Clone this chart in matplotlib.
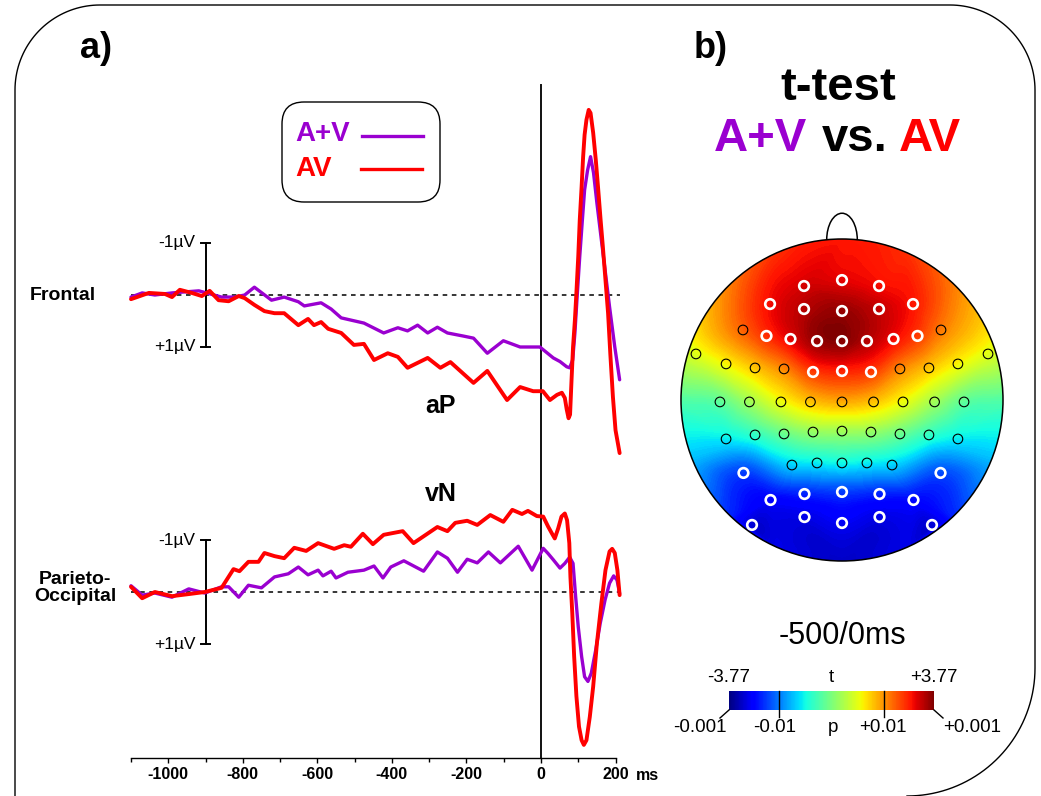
import numpy as np
import matplotlib
matplotlib.use("Agg")
import matplotlib.pyplot as plt
import matplotlib.tri as mtri
from matplotlib.patches import FancyBboxPatch, Circle, Arc
from matplotlib.colors import Normalize
from matplotlib.cm import ScalarMappable

plt.rcParams['font.family'] = ['Liberation Sans', 'DejaVu Sans']

# ---------------- data ----------------
# Frontal, A+V (ms, microvolt; negative plotted up)
t_front_apv = [-1100, -1070, -1036, -990, -918, -857, -822, -795, -769, -723,
               -689, -651, -635, -590, -563, -536, -475, -422, -384, -358,
               -331, -304, -278, -251, -208, -181, -144, -101, -56, -3,
               33, 51, 69, 77, 85, 91, 97, 104, 111, 117,
               125, 133, 141, 150, 162, 173, 184, 198, 211]
v_front_apv = [0.04, -0.04, 0.0, -0.04, -0.08, 0.04, 0.04, 0.0, -0.15, 0.1,
               0.04, 0.13, 0.21, 0.15, 0.27, 0.44, 0.54, 0.73, 0.63, 0.69,
               0.58, 0.73, 0.62, 0.73, 0.79, 0.83, 1.12, 0.88, 1.0, 1.0,
               1.21, 1.28, 1.38, 1.40, 1.25, 0.73, 0.03, -0.74, -1.44, -2.02,
               -2.40, -2.66, -2.35, -1.77, -1.06, -0.42, 0.23, 1.0, 1.63]
# Frontal, AV
t_front_av = [-1100, -1052, -1009, -990, -969, -937, -910, -889, -865, -838,
              -811, -795, -769, -742, -715, -689, -651, -625, -609, -590,
              -571, -536, -502, -475, -448, -411, -384, -358, -304, -270,
              -243, -181, -144, -91, -56, -21, 5, 24, 43, 56,
              64, 69, 74, 78, 82, 86, 91, 95, 100, 104,
              109, 113, 117, 122, 128, 133, 140, 147, 153, 160,
              166, 173, 180, 186, 193, 200, 211]
v_front_av = [0.08, -0.04, -0.02, 0.04, -0.1, -0.04, 0.02, -0.08, 0.1, 0.12,
              0.02, 0.06, 0.19, 0.31, 0.35, 0.35, 0.58, 0.46, 0.58, 0.52,
              0.65, 0.73, 0.96, 0.94, 1.25, 1.12, 1.19, 1.40, 1.21, 1.40,
              1.29, 1.69, 1.46, 2.02, 1.77, 1.85, 1.85, 2.02, 1.92, 1.88,
              1.98, 2.20, 2.37, 2.30, 1.63, 1.0, 0.48, -0.04, -0.74, -1.44,
              -2.08, -2.65, -3.08, -3.37, -3.56, -3.50, -3.12, -2.60, -2.08, -1.44,
              -0.93, -0.29, 0.35, 1.13, 1.96, 2.60, 3.04]
# Parieto-occipital, A+V
t_par_apv = [-1100, -1070, -1036, -990, -945, -902, -857, -838, -811, -785,
             -750, -715, -678, -651, -625, -598, -585, -563, -550, -518,
             -475, -448, -424, -403, -368, -315, -278, -251, -224, -198,
             -171, -141, -109, -61, -24, 6, 19, 33, 51, 64,
             77, 86, 93, 100, 109, 117, 126, 135, 147, 159,
             172, 184, 195, 204, 211]
v_par_apv = [-0.12, 0.06, 0.02, 0.1, -0.06, 0.02, -0.1, -0.1, 0.1, -0.13,
             -0.08, -0.29, -0.35, -0.48, -0.33, -0.42, -0.31, -0.40, -0.27, -0.38,
             -0.42, -0.50, -0.27, -0.48, -0.60, -0.40, -0.77, -0.65, -0.38, -0.63,
             -0.56, -0.77, -0.56, -0.88, -0.42, -0.84, -0.74, -0.62, -0.46, -0.55,
             -0.67, -0.55, 0.09, 0.67, 1.24, 1.63, 1.72, 1.56, 1.11, 0.60,
             0.15, -0.17, -0.31, -0.23, 0.03]
# Parieto-occipital, AV
t_par_av = [-1100, -1070, -1036, -990, -945, -902, -857, -825, -809, -785,
            -758, -742, -715, -689, -662, -630, -598, -555, -528, -510,
            -478, -451, -422, -371, -342, -278, -251, -230, -198, -171,
            -136, -101, -77, -51, -35, -11, 6, 19, 29, 37,
            46, 55, 64, 70, 76, 79, 84, 89, 95, 102,
            109, 115, 122, 131, 140, 150, 162, 173, 184, 191,
            198, 205, 211]
v_par_av = [-0.10, 0.12, 0.0, 0.08, 0.04, 0.0, -0.08, -0.44, -0.40, -0.58,
            -0.58, -0.75, -0.69, -0.65, -0.85, -0.79, -0.94, -0.83, -0.90, -0.87,
            -1.12, -0.92, -1.10, -1.17, -0.94, -1.25, -1.17, -1.33, -1.37, -1.29,
            -1.48, -1.35, -1.58, -1.50, -1.56, -1.46, -1.45, -1.26, -1.13, -1.03,
            -1.22, -1.45, -1.51, -1.38, -0.94, -0.29, 0.41, 1.24, 2.00, 2.59,
            2.85, 2.94, 2.85, 2.40, 1.82, 0.99, 0.22, -0.42, -0.78, -0.83,
            -0.75, -0.42, 0.06]

x_major = [-1000, -800, -600, -400, -200, 0, 200]
x_major_labels = ['-1000', '-800', '-600', '-400', '-200', '0', '200']
x_minor = list(range(-1100, 201, 100))

# Topography: electrode positions (head radius = 1) and t values
elec_x = [-0.236, 0.0, 0.230,
          -0.447, -0.236, 0.0, 0.230, 0.441,
          -0.615, -0.469, -0.320, -0.155, 0.0, 0.155, 0.320, 0.469, 0.615,
          -0.907, -0.720, -0.540, -0.360, -0.180, 0.0, 0.180, 0.360, 0.540, 0.720, 0.907,
          -0.758, -0.575, -0.379, -0.196, 0.0, 0.196, 0.379, 0.575, 0.758,
          -0.720, -0.540, -0.360, -0.180, 0.0, 0.180, 0.360, 0.540, 0.720,
          -0.311, -0.155, 0.0, 0.155, 0.311,
          -0.612, 0.612,
          -0.444, -0.233, 0.0, 0.233, 0.444,
          -0.559, -0.233, 0.0, 0.233, 0.559]
elec_y = [0.708, 0.745, 0.708,
          0.596, 0.565, 0.553, 0.565, 0.596,
          0.435, 0.398, 0.379, 0.366, 0.366, 0.366, 0.379, 0.398, 0.435,
          0.286, 0.224, 0.199, 0.193, 0.174, 0.180, 0.174, 0.193, 0.199, 0.224, 0.286,
          -0.012, -0.012, -0.012, -0.012, -0.012, -0.012, -0.012, -0.012, -0.012,
          -0.242, -0.217, -0.211, -0.199, -0.193, -0.199, -0.211, -0.217, -0.242,
          -0.404, -0.391, -0.391, -0.391, -0.404,
          -0.453, -0.453,
          -0.621, -0.584, -0.571, -0.584, -0.621,
          -0.776, -0.727, -0.764, -0.727, -0.776]
elec_t = [3.2, 3.1, 3.0,
          3.0, 3.4, 3.6, 3.3, 2.9,
          2.3, 2.7, 3.1, 3.6, 3.7, 3.4, 3.0, 2.6, 2.1,
          0.9, 1.1, 1.5, 2.0, 2.6, 2.8, 2.6, 2.0, 1.5, 1.1, 0.9,
          -0.3, 0.3, 1.0, 1.5, 1.7, 1.5, 1.0, 0.3, -0.3,
          -1.1, -0.7, -0.2, 0.2, 0.3, 0.2, -0.2, -0.7, -1.1,
          -1.3, -1.1, -1.0, -1.1, -1.3,
          -2.4, -2.3,
          -2.9, -2.6, -2.4, -2.6, -2.8,
          -3.2, -3.1, -3.0, -3.1, -3.2]
elec_sig = [1, 1, 1,
            1, 1, 1, 1, 1,
            0, 1, 1, 1, 1, 1, 1, 1, 0,
            0, 0, 0, 0, 1, 1, 1, 0, 0, 0, 0,
            0, 0, 0, 0, 0, 0, 0, 0, 0,
            0, 0, 0, 0, 0, 0, 0, 0, 0,
            0, 0, 0, 0, 0,
            1, 1,
            1, 1, 1, 1, 1,
            1, 1, 1, 1, 1]
# t values on the scalp border (angle from nose, clockwise)
ring_angle = [0, 22.5, 45, 67.5, 90, 112.5, 135, 157.5, 180,
              202.5, 225, 247.5, 270, 292.5, 315, 337.5]
ring_t = [2.9, 2.7, 2.0, 1.1, -0.4, -1.5, -2.5, -3.1, -3.3,
          -3.1, -2.5, -1.5, -0.4, 1.1, 2.0, 2.7]

t_max = 3.77
cb_ticks_t = [-t_max, -1.94, 1.94, t_max]
cb_p_labels = ['-0.001', '-0.01', '+0.01', '+0.001']

PURPLE = '#9a00d0'
RED = '#ff0000'

# ---------------- figure ----------------
W, H = 1041, 796
fig = plt.figure(figsize=(W / 100, H / 100), dpi=100, facecolor='white')


def px_axes(x0, y0, x1, y1, z=1):
    return fig.add_axes([x0 / W, 1 - y1 / H, (x1 - x0) / W, (y1 - y0) / H], zorder=z)


bg = px_axes(0, 0, W, H, z=0)
bg.set_xlim(0, W)
bg.set_ylim(H, 0)
bg.axis('off')


def arc_pts(cx, cy, r, a0, a1, n=40):
    a = np.radians(np.linspace(a0, a1, n))
    return cx + r * np.cos(a), cy + r * np.sin(a)


# outer rounded frame
L, R, T, B = 15, 1035, 5, 796
r1, rb = 85, 128
xs, ys = [L], [H + 20]
ax_, ay_ = arc_pts(L + r1, T + r1, r1, 180, 270); xs += list(ax_); ys += list(ay_)
ax_, ay_ = arc_pts(R - r1, T + r1, r1, 270, 360); xs += list(ax_); ys += list(ay_)
ax_, ay_ = arc_pts(R - rb, B - rb, rb, 0, 90); xs += list(ax_); ys += list(ay_)
bg.plot(xs, ys, color='k', lw=1.0, clip_on=False)

# panel letters
bg.text(96, 48, 'a)', fontsize=26, fontweight='bold', ha='center', va='center')
bg.text(711, 48, 'b)', fontsize=26, fontweight='bold', ha='center', va='center')

# legend box
bg.add_patch(FancyBboxPatch((282, 102), 158, 100,
                            boxstyle='round,pad=0,rounding_size=22',
                            fc='white', ec='k', lw=1.0))
bg.text(295, 134, 'A+V', color=PURPLE, fontsize=20, fontweight='bold', ha='left', va='center')
bg.text(295, 169, 'AV', color=RED, fontsize=20, fontweight='bold', ha='left', va='center')
bg.plot([362, 423], [135.5, 135.5], color=PURPLE, lw=2.4)
bg.plot([361, 422], [169, 169], color=RED, lw=2.4)

# channel labels
bg.text(63, 296, 'Frontal', fontsize=14, fontweight='bold', ha='center', va='center')
bg.text(75, 588, 'Parieto-\nOccipital', fontsize=14, fontweight='bold',
        ha='center', va='center', multialignment='center', linespacing=1.05)
bg.text(441, 406, 'aP', fontsize=18, fontweight='bold', ha='center', va='center')
bg.text(441, 494, 'vN', fontsize=18, fontweight='bold', ha='center', va='center')

# right panel titles
bg.text(838, 88, 't-test', fontsize=34, fontweight='bold', ha='center', va='center')
t1 = bg.text(714, 139, 'A+V', color=PURPLE, fontsize=34, fontweight='bold', ha='left', va='center')
t2 = bg.annotate('vs.', xy=(1, 0), xycoords=t1, xytext=(15, 0), textcoords='offset pixels',
                 ha='left', va='bottom', fontsize=34, fontweight='bold', color='black')
t3 = bg.annotate('AV', xy=(1, 0), xycoords=t2, xytext=(11, 0), textcoords='offset pixels',
                 ha='left', va='bottom', fontsize=34, fontweight='bold', color=RED)
bg.text(842, 636, '-500/0ms', fontsize=22, ha='center', va='center')

# ---------------- waveforms ----------------
BASE_F = 0.0
BASE_P = (592 - 295) / 52.0
aw = px_axes(131, 80, 620, 758, z=2)
aw.patch.set_alpha(0)
aw.set_xlim(-1100, 212)
aw.set_ylim((758 - 295) / 52.0, (80 - 295) / 52.0)
for s in ['top', 'right', 'left']:
    aw.spines[s].set_visible(False)
aw.spines['bottom'].set_bounds(-1100, 200)
aw.spines['bottom'].set_linewidth(1.0)
aw.set_yticks([])
aw.set_xticks(x_major)
aw.set_xticklabels(x_major_labels, fontweight='bold', fontsize=11.5)
aw.set_xticks(x_minor, minor=True)
aw.tick_params(axis='x', which='major', length=3.6, width=1.0, pad=3)
aw.tick_params(axis='x', which='minor', length=2.9, width=1.0)
aw.annotate('ms', xy=(200, 0), xycoords=('data', 'axes fraction'), xytext=(20, -18),
            textcoords='offset pixels', ha='left', va='center', fontsize=11.5, fontweight='bold')

for base in (BASE_F, BASE_P):
    aw.plot([-1100, 211], [base, base], color='k', lw=1.1, ls=(0, (3, 3)), zorder=1)
    aw.plot([-900, -900], [base - 1, base + 1], color='k', lw=1.4, zorder=1)
    for v in (-1, 1):
        aw.plot([-911, -889], [base + v, base + v], color='k', lw=1.4, zorder=1)
    aw.annotate('-1\u00b5V', xy=(-900, base - 1), xytext=(-10, 0), textcoords='offset pixels',
                ha='right', va='center', fontsize=12.5)
    aw.annotate('+1\u00b5V', xy=(-900, base + 1), xytext=(-10, 0), textcoords='offset pixels',
                ha='right', va='center', fontsize=12.5)

aw.axvline(0, ymin=0, ymax=(758 - 85) / (758 - 80), color='#111111', lw=1.4, zorder=2)

kw = dict(solid_joinstyle='round', solid_capstyle='round', clip_on=False)
aw.plot(t_front_apv, np.array(v_front_apv) + BASE_F, color=PURPLE, lw=2.4, zorder=3, **kw)
aw.plot(t_front_av, np.array(v_front_av) + BASE_F, color=RED, lw=2.8, zorder=4, **kw)
aw.plot(t_par_apv, np.array(v_par_apv) + BASE_P, color=PURPLE, lw=2.4, zorder=3, **kw)
aw.plot(t_par_av, np.array(v_par_av) + BASE_P, color=RED, lw=2.8, zorder=4, **kw)

# ---------------- topography ----------------
norm = Normalize(-t_max, t_max)
HR = 161.0
ah = px_axes(842 - 1.2 * HR, 400 - 1.25 * HR, 842 + 1.2 * HR, 400 + 1.2 * HR, z=2)
ah.set_xlim(-1.2, 1.2)
ah.set_ylim(-1.2, 1.25)
ah.axis('off')

ang = np.radians(ring_angle)
X = np.concatenate([elec_x, 1.02 * np.sin(ang)])
Y = np.concatenate([elec_y, 1.02 * np.cos(ang)])
Z = np.concatenate([elec_t, ring_t])
tri = mtri.Triangulation(X, Y)
interp = mtri.CubicTriInterpolator(tri, Z, kind='geom')
refiner = mtri.UniformTriRefiner(tri)
tri_f, z_f = refiner.refine_field(Z, triinterpolator=interp, subdiv=4)
z_f = np.clip(z_f, -t_max + 1e-3, t_max - 1e-3)
cs = ah.tricontourf(tri_f, z_f, levels=np.linspace(-t_max, t_max, 151), cmap='jet', norm=norm)
cs.set_clip_path(Circle((0, 0), 1.0, transform=ah.transData))

ah.add_patch(Circle((0, 0), 1.0, fill=False, ec='k', lw=1.1, zorder=4))
ah.add_patch(Arc((0, 0.995), width=0.19, height=0.33, theta1=0, theta2=180,
                 ec='k', lw=1.1, zorder=4))

ex = np.array(elec_x); ey = np.array(elec_y); sig = np.array(elec_sig, bool)
ah.scatter(ex[~sig], ey[~sig], s=48, facecolors='none', edgecolors='black', linewidths=0.8, zorder=5)
ah.scatter(ex[sig], ey[sig], s=48, facecolors='none', edgecolors='white', linewidths=1.9, zorder=5)

# ---------------- colour bar ----------------
acb = px_axes(729, 691, 934, 710, z=2)
cb = fig.colorbar(ScalarMappable(norm=norm, cmap='jet'), cax=acb, orientation='horizontal')
cb.outline.set_visible(False)
cb.set_ticks([])
xt = acb.get_xaxis_transform()
px_t = (2 * t_max) / 205.0
for tv in cb_ticks_t[1:3]:
    acb.plot([tv, tv], [1, -7 / 19], color='k', lw=1.0, transform=xt, clip_on=False)
acb.plot([-t_max, -t_max - 9 * px_t], [0, -8 / 19], color='k', lw=1.0, transform=xt, clip_on=False)
acb.plot([t_max, t_max + 9 * px_t], [0, -8 / 19], color='k', lw=1.0, transform=xt, clip_on=False)

for tv, lab in [(-t_max, '-3.77'), (0, 't'), (t_max, '+3.77')]:
    acb.annotate(lab, xy=(tv, 1), xycoords=xt, xytext=(0, 13), textcoords='offset pixels',
                 ha='center', va='center', fontsize=13.5)
offs = [-29, -4, -1, 38]
for tv, lab, dx in zip(cb_ticks_t, cb_p_labels, offs):
    acb.annotate(lab, xy=(tv, 0), xycoords=xt, xytext=(dx, -18), textcoords='offset pixels',
                 ha='center', va='center', fontsize=13.5)
acb.annotate('p', xy=(0, 0), xycoords=xt, xytext=(1, -18), textcoords='offset pixels',
             ha='center', va='center', fontsize=13.5)

fig.savefig('out.png', dpi=100, facecolor='white')
